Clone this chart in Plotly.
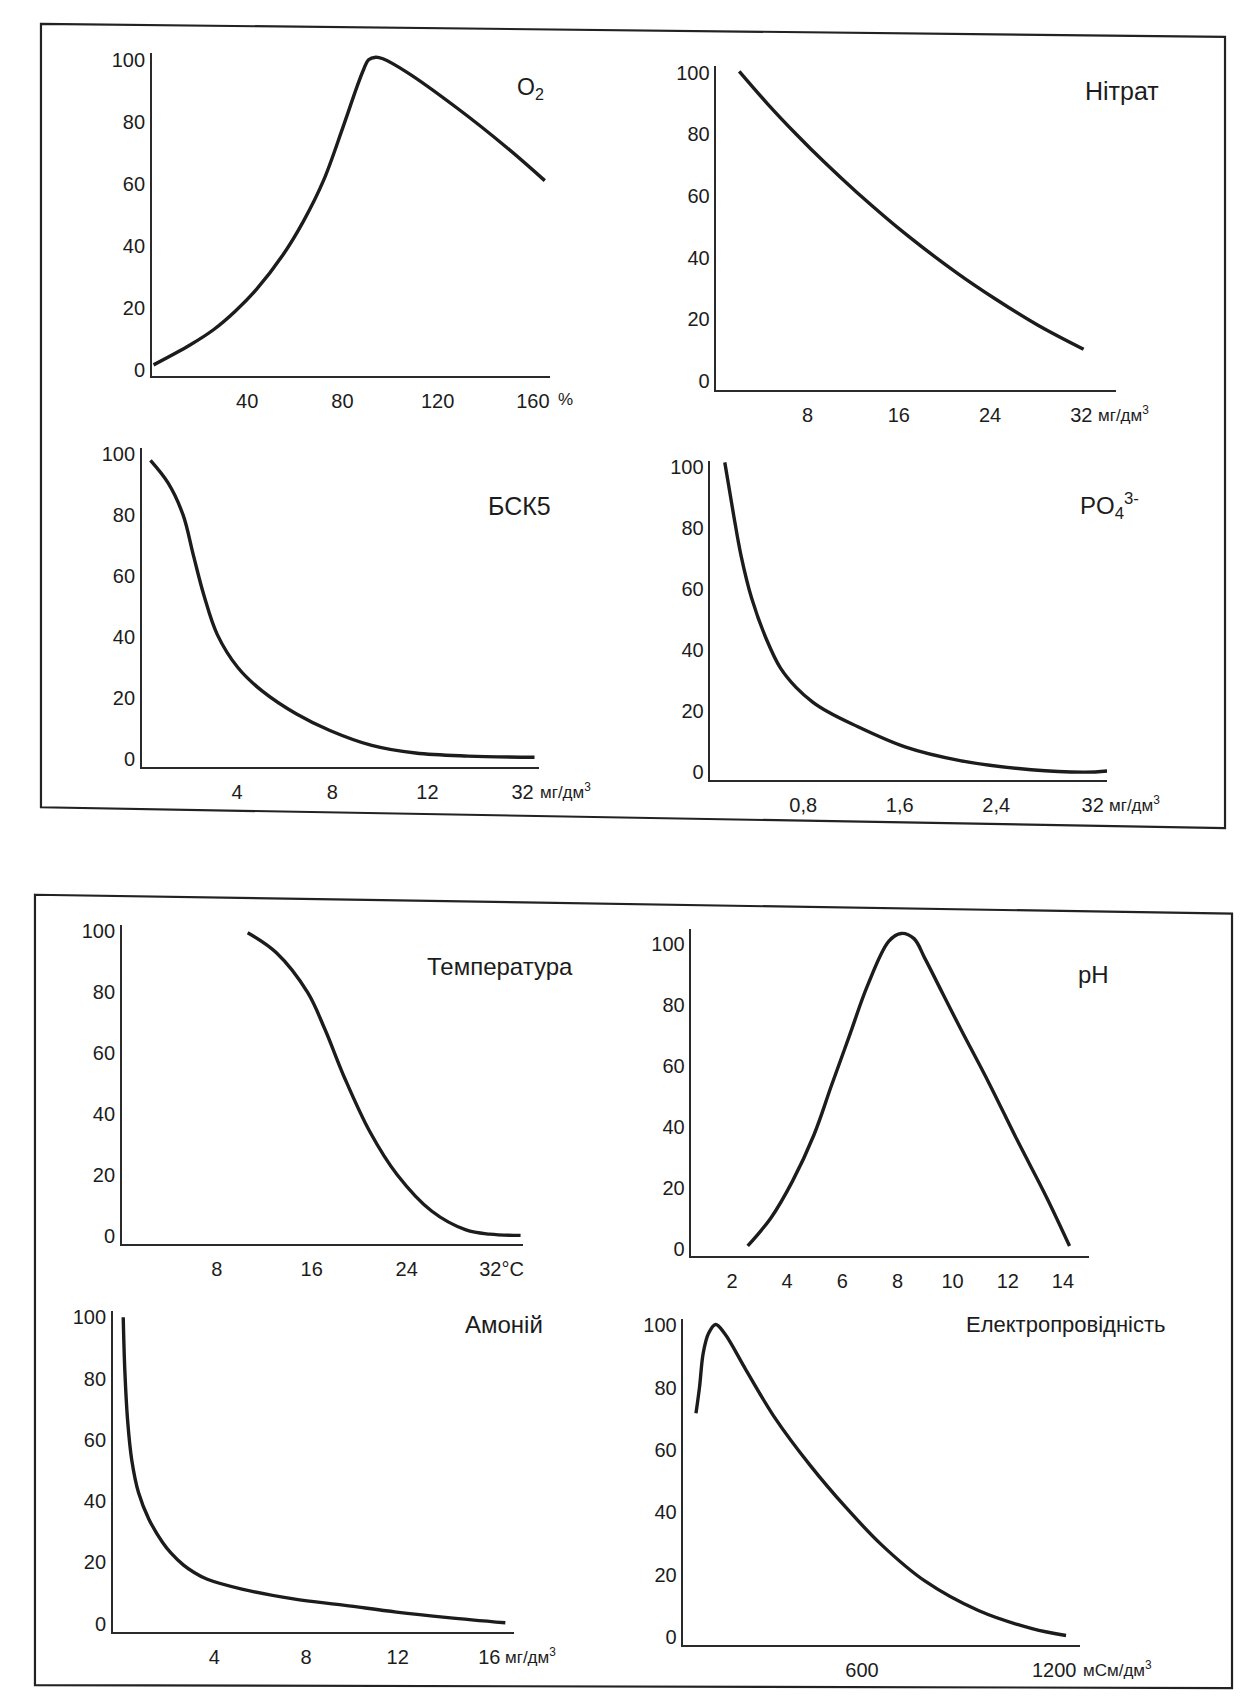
import plotly.graph_objects as go

W, H = 1248, 1698

# ---------------- data ----------------
o2_x = [0.7, 16, 26, 35, 44, 55, 63.5, 72, 80, 86, 89, 91, 94, 97, 107, 128, 149, 165]
o2_y = [1.6, 8.0, 13.0, 18.9, 26.0, 37.0, 47.7, 60.9, 77.7, 91, 97, 100, 100.8, 100.3, 96, 84.5, 71.7, 61]
o2_ticks = [40, 80, 120, 160]
o2_ticktext = ["40", "80", "120", "160"]

nitrate_x = [2.0, 4.5, 7.0, 9.5, 12.3, 16.8, 21.2, 24.4, 28.2, 32.2]
nitrate_y = [100.4, 89.8, 80.0, 70.8, 61.2, 47.0, 34.7, 26.7, 18.0, 10.2]
nitrate_ticks = [8, 16, 24, 32]
nitrate_ticktext = ["8", "16", "24", "32"]

bod_x = [0.36, 1.1, 1.73, 2.16, 2.6, 3.17, 4.04, 5.05, 6.5, 7.9, 9.66, 11.5, 13.7, 16.5]
bod_y = [97.9, 90.5, 80, 66.9, 53.8, 40.7, 29.8, 22.2, 14.6, 9.2, 4.3, 1.8, 0.8, 0.4]
bod_ticks = [4, 8, 12, 16]
bod_ticktext = ["4", "8", "12", "32"]

po4_x = [0.149, 0.223, 0.283, 0.372, 0.49, 0.61, 0.74, 0.878, 1.0, 1.205, 1.65, 2.1, 2.69, 3.14, 3.32]
po4_y = [101.6, 84.2, 71.2, 57, 44, 34.2, 27.8, 23.0, 19.9, 15.8, 8.2, 3.8, 0.8, 0.0, 0.4]
po4_ticks = [0.8, 1.6, 2.4, 3.2]
po4_ticktext = ["0,8", "1,6", "2,4", "32"]

temp_x = [10.6, 13.0, 15.65, 17.1, 18.8, 20.9, 23.2, 26.1, 29.0, 31.0, 33.6]
temp_y = [99.5, 93, 79.9, 67.9, 51.6, 34.2, 20.1, 8.2, 2.0, 0.6, 0.2]
temp_ticks = [8, 16, 24, 32]
temp_ticktext = ["8", "16", "24", "32°C"]

ph_x = [2.57, 3.41, 4.19, 4.97, 5.61, 6.26, 6.91, 7.69, 8.14, 8.6, 8.99, 9.64, 10.28, 11.32, 12.36, 13.4, 14.24]
ph_y = [1.1, 10.3, 22.3, 37.5, 53.8, 70.1, 86.4, 101.1, 103.6, 101.9, 95.5, 83.9, 72.5, 54.5, 35.5, 17.2, 1.1]
ph_ticks = [2, 4, 6, 8, 10, 12, 14]
ph_ticktext = ["2", "4", "6", "8", "10", "12", "14"]

nh4_x = [0.02, 0.09, 0.21, 0.39, 0.69, 1.14, 1.74, 2.1, 2.64, 3.1, 3.69, 5.2, 7.45, 9.7, 11.95, 14.2, 16.7]
nh4_y = [100, 82.7, 66.5, 53.5, 42.7, 34.1, 26.5, 23.1, 19.2, 16.8, 14.5, 11.3, 8.1, 6.0, 3.8, 2.0, 0.3]
nh4_ticks = [4, 8, 12, 16]
nh4_ticktext = ["4", "8", "12", "16"]

ec_x = [81.6, 92.8, 104, 120.6, 143, 171, 237.9, 327, 438.8, 550.4, 662, 796, 963.4, 1131, 1237]
ec_y = [71.8, 80.3, 91, 97.4, 100.3, 97.4, 85.7, 70.5, 55.0, 41.5, 29.5, 18.0, 8.5, 2.7, 0.5]
ec_ticks = [600, 1200]
ec_ticktext = ["600", "1200"]

y_ticks = [0, 20, 40, 60, 80, 100]
y_ticktext = ["0", "20", "40", "60", "80", "100"]

titles = ["O<sub>2</sub>", "Нітрат", "БСК5", "PO<sub>4</sub><sup>3-</sup>",
          "Температура", "pH", "Амоній", "Електропровідність"]
unit_mg = "мг/дм<sup>3</sup>"
unit_ec = "мСм/дм<sup>3</sup>"

# ---------------- layout geometry (pixels) ----------------
panels = [
    dict(x=o2_x, y=o2_y, xr=(0, 167), px=(152, 550), y0=367, y100=55, axis=373, top=102,
         tv=o2_ticks, tt=o2_ticktext, tpos=(531, 84), ts=23, unit="%", ux=556),
    dict(x=nitrate_x, y=nitrate_y, xr=(0, 35.05), px=(717, 1117), y0=378, y100=68, axis=387, top=102,
         tv=nitrate_ticks, tt=nitrate_ticktext, tpos=(1123, 87), ts=25, unit=unit_mg, ux=1097),
    dict(x=bod_x, y=bod_y, xr=(0, 16.67), px=(142, 539), y0=758, y100=451.7, axis=767, top=102,
         tv=bod_ticks, tt=bod_ticktext, tpos=(520, 504), ts=25, unit=unit_mg, ux=538),
    dict(x=po4_x, y=po4_y, xr=(0.03, 3.32), px=(711, 1108), y0=771.7, y100=465, axis=780, top=102,
         tv=po4_ticks, tt=po4_ticktext, tpos=(1110, 504), ts=24, unit=unit_mg, ux=1108),
    dict(x=temp_x, y=temp_y, xr=(0, 33.77), px=(122, 523), y0=1238.3, y100=931.7, axis=1246.7, top=102,
         tv=temp_ticks, tt=temp_ticktext, tpos=(500, 967), ts=24, unit=None, ux=None),
    dict(x=ph_x, y=ph_y, xr=(0.53, 14.95), px=(692, 1090), y0=1251.7, y100=945, axis=1258.3, top=105,
         tv=ph_ticks, tt=ph_ticktext, tpos=(1094, 975), ts=24, unit=None, ux=None),
    dict(x=nh4_x, y=nh4_y, xr=(-0.43, 17.06), px=(113, 514), y0=1628.3, y100=1320, axis=1636.7, top=102,
         tv=nh4_ticks, tt=nh4_ticktext, tpos=(504, 1327), ts=24, unit=unit_mg, ux=503),
    dict(x=ec_x, y=ec_y, xr=(42.5, 1281), px=(684, 1081), y0=1641.7, y100=1328.3, axis=1650, top=102,
         tv=ec_ticks, tt=ec_ticktext, tpos=(1067, 1327), ts=22, unit=unit_ec, ux=1082),
]

FONT = "Liberation Sans, Arial, Helvetica, sans-serif"
INK = "#1c1c1c"

fig = go.Figure()
annotations = []

for i, p in enumerate(panels):
    n = "" if i == 0 else str(i + 1)
    ppu = (p["y0"] - p["y100"]) / 100.0
    ybot = -(p["axis"] - p["y0"]) / ppu
    ptop = p["y0"] - p["top"] * ppu
    xdom = [p["px"][0] / W, p["px"][1] / W]
    ydom = [1 - p["axis"] / H, 1 - ptop / H]

    fig.add_trace(go.Scatter(
        x=p["x"], y=p["y"], mode="lines",
        line=dict(color=INK, width=3.4, shape="spline", smoothing=1.0),
        xaxis="x" + n, yaxis="y" + n, showlegend=False, hoverinfo="x+y"))

    axis_common = dict(showgrid=False, zeroline=False, showline=True,
                       linecolor="#2a2a2a", linewidth=1.6, ticks="",
                       tickfont=dict(family=FONT, size=20, color=INK))
    fig.update_layout(**{
        "xaxis" + n: dict(domain=xdom, range=list(p["xr"]), anchor="y" + n,
                          tickmode="array", tickvals=p["tv"], ticktext=p["tt"],
                          ticklabelstandoff=6, **axis_common),
        "yaxis" + n: dict(domain=ydom, range=[ybot, p["top"]], anchor="x" + n,
                          tickmode="array", tickvals=y_ticks, ticktext=y_ticktext,
                          ticklabelstandoff=1, **axis_common),
    })

    annotations.append(dict(text=titles[i], x=p["tpos"][0] / W, y=1 - p["tpos"][1] / H,
                            xref="paper", yref="paper", xanchor="center", yanchor="middle",
                            showarrow=False, font=dict(family=FONT, size=p["ts"], color=INK)))
    if p["unit"]:
        annotations.append(dict(text=p["unit"], x=p["ux"] / W, y=1 - (p["axis"] + 24) / H,
                                xref="paper", yref="paper", xanchor="left", yanchor="middle",
                                showarrow=False, font=dict(family=FONT, size=17, color=INK)))


def frame(pts):
    s = "M " + " L ".join(f"{x / W:.5f},{1 - y / H:.5f}" for x, y in pts) + " Z"
    return dict(type="path", path=s, xref="paper", yref="paper",
                line=dict(color="#222222", width=2.2), fillcolor="rgba(0,0,0,0)", layer="below")


shapes = [
    frame([(41, 19), (1226, 32), (1226, 828), (41, 807)]),
    frame([(35, 895), (1233, 914), (1233, 1693), (35, 1690)]),
]

fig.update_layout(width=W, height=H, margin=dict(l=0, r=0, t=0, b=0),
                  paper_bgcolor="white", plot_bgcolor="white",
                  annotations=annotations, shapes=shapes,
                  font=dict(family=FONT, color=INK))

fig.write_html("out.html", config={"displayModeBar": False},
               post_script="document.body.style.margin='0px';")
